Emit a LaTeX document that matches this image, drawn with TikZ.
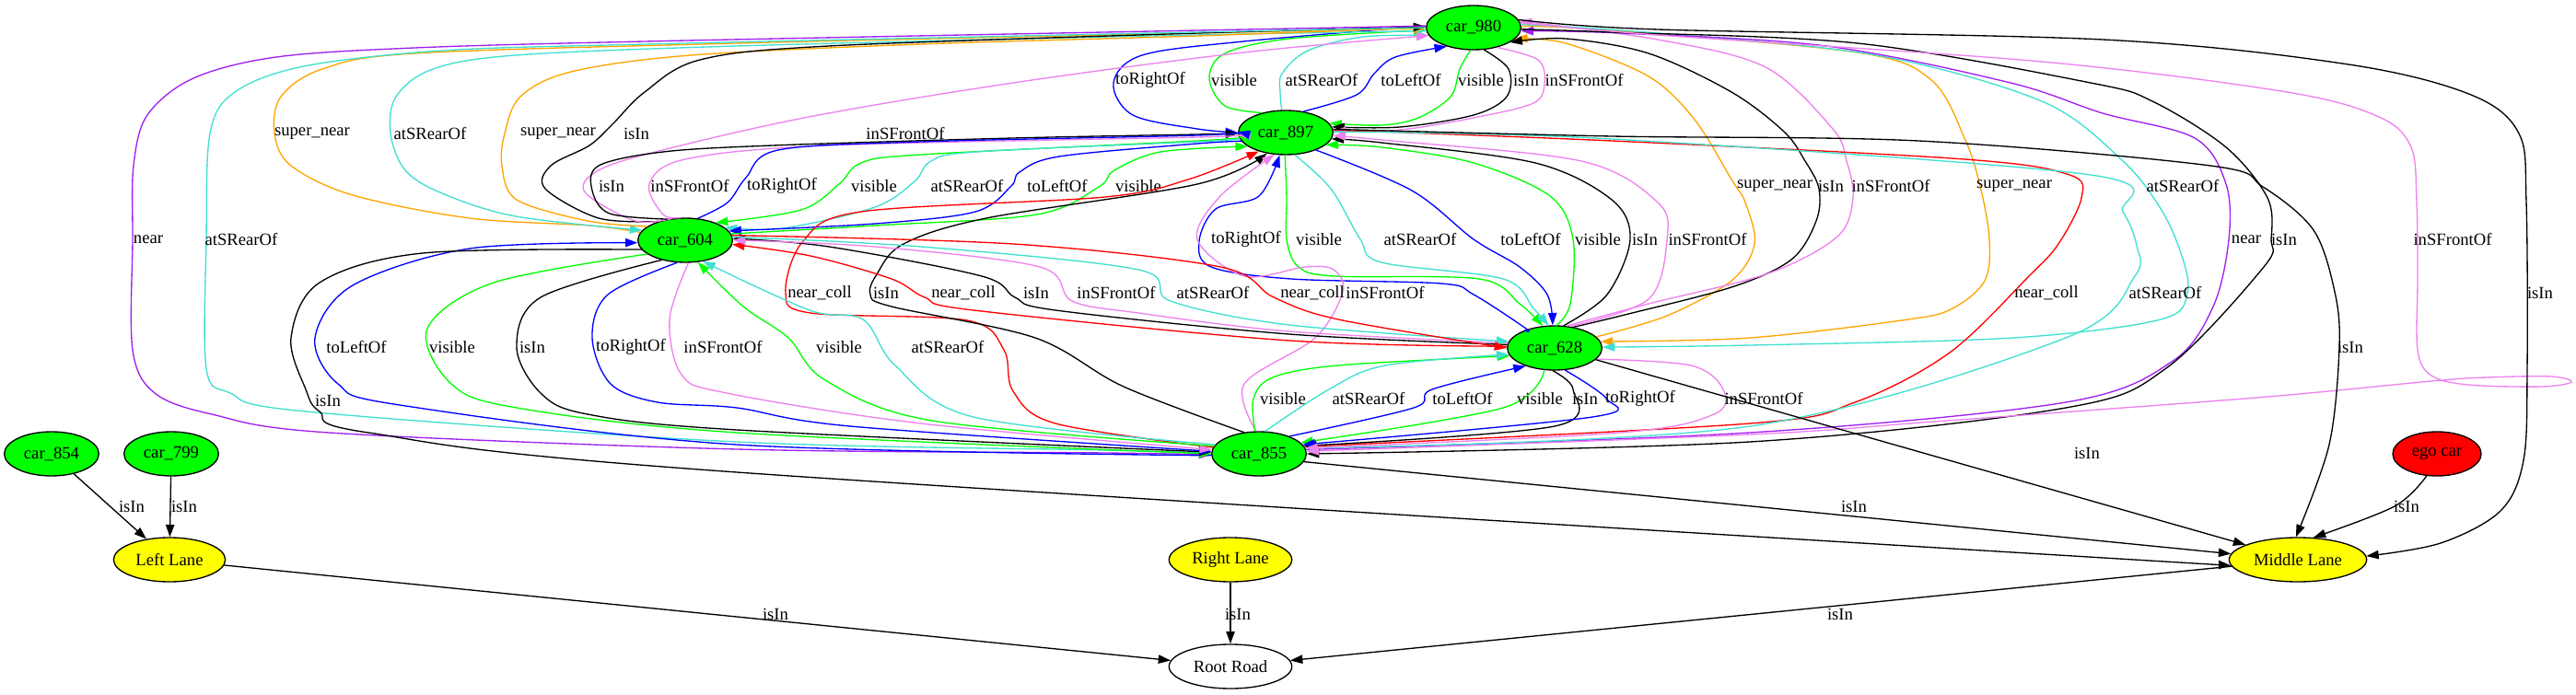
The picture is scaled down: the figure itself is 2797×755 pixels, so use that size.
\documentclass[tikz,border=0pt]{standalone}
\usepackage{fontspec}
\setmainfont{Liberation Serif}
\usetikzlibrary{arrows.meta,shapes.geometric}
\definecolor{vgreen}{HTML}{00FF00}
\definecolor{vviolet}{HTML}{EE82EE}
\definecolor{vturq}{HTML}{40E0D0}
\definecolor{vorange}{HTML}{FFA500}
\definecolor{vpurple}{HTML}{A020F0}
\definecolor{vblue}{HTML}{0000FF}
\definecolor{vred}{HTML}{FF0000}
\definecolor{vyellow}{HTML}{FFFF00}

\begin{document}
\begin{tikzpicture}[
  x=0.75pt, y=-0.75pt,
  every node/.style={font=\fontsize{14pt}{16pt}\selectfont},
  car/.style={ellipse, draw=black, fill=vgreen, line width=1pt,
    minimum width=77pt, minimum height=36pt, inner sep=0pt},
  lane/.style={car, fill=vyellow},
  egocar/.style={car, fill=vred, minimum width=72pt},
  road/.style={car, fill=white},
  lbl/.style={inner sep=1pt},
  arr/.style={-{Triangle[length=10pt,width=7pt]}, line width=1pt, smooth, tension=0.55},
  isin/.style={arr, draw=black},
  front/.style={arr, draw=vviolet},
  rear/.style={arr, draw=vturq},
  lft/.style={arr, draw=vblue},
  rgt/.style={arr, draw=vblue},
  vis/.style={arr, draw=vgreen},
  snear/.style={arr, draw=vorange},
  nr/.style={arr, draw=vpurple},
  coll/.style={arr, draw=vred}
]
  \path[fill=white] (0,0) rectangle (2797,755);
  \useasboundingbox (0,0) rectangle (2797,755);

  % nodes
  \node[car] (c980) at (1600,30) {car\_980};
  \node[car] (c897) at (1396,144) {car\_897};
  \node[car] (c604) at (744,261) {car\_604};
  \node[car] (c628) at (1688,378) {car\_628};
  \node[car] (c855) at (1367,493) {car\_855};
  \node[car] (c854) at (56,493) {car\_854};
  \node[car] (c799) at (186,493) {car\_799};
  \node[egocar] (ego) at (2646,493) {ego car};
  \node[lane, minimum width=91pt] (lleft) at (184,608) {Left Lane};
  \node[lane, minimum width=100pt] (lright) at (1336,608) {Right Lane};
  \node[lane, minimum width=112pt] (lmid) at (2495,608) {Middle Lane};
  \node[road, minimum width=100pt] (root) at (1336,724) {Root Road};

  % car_980 -- car_897
  \draw[rgt] plot coordinates {(c980.178) (1350,45) (1240,60) (1209,90) (1230,125) (1300,140) (c897.180)};
  \draw[vis] plot coordinates {(c897.140) (1330,115) (1313,85) (1330,58) (1400,42) (c980.183)};
  \draw[rear] plot coordinates {(c897.100) (1390,100) (1392,80) (1420,55) (1480,40) (c980.190)};
  \draw[lft] plot coordinates {(c897.50) (1473,103) (1492,80) (1515,62) (c980.215)};
  \draw[vis] plot coordinates {(c980.262) (1585,75) (1575,105) (1540,128) (1500,136) (c897.12)};
  \draw[isin] plot coordinates {(c980.295) (1638,75) (1636,105) (1600,125) (1520,138) (c897.7)};
  \draw[front] plot coordinates {(c980.320) (1670,65) (1677,90) (1665,112) (1600,128) (1520,141) (c897.2)};
  \foreach \x/\y/\t [count=\i] in {1249/87/toRightOf, 1340/87/visible, 1435/87/atSRearOf,
      1532/87/toLeftOf, 1608/87/visible, 1657/87/isIn, 1720/87/inSFrontOf}
    \node[lbl] (a\i) at (\x,\y) {\t};

  % car_980 -- car_604
  \draw[snear] plot coordinates {(c604.170) (640,245) (510,237) (383,212) (316,180) (298,145) (305,105) (350,75) (450,58) (800,47) (1250,37) (c980.181)};
  \draw[rear] plot coordinates {(c980.184) (1250,39) (800,50) (560,60) (470,75) (430,105) (424,145) (440,185) (480,210) (560,235) (c604.167)};
  \draw[snear] plot coordinates {(c604.160) (638,240) (561,217) (545,180) (548,145) (565,105) (620,78) (750,60) (1000,48) (1300,39) (c980.180)};
  \draw[isin] plot coordinates {(c604.145) (650,237) (592,205) (598,180) (640,158) (665,135) (700,100) (760,65) (900,50) (1300,36) (c980.179)};
  \draw[front] plot coordinates {(c604.120) (690,240) (636,210) (645,188) (700,168) (873,128) (1100,90) (1350,57) (c980.190)};
  \foreach \x/\y/\t [count=\i] in {339/145/super\_near, 467/145/atSRearOf, 606/145/super\_near,
      691/145/isIn, 983/145/inSFrontOf}
    \node[lbl] (b\i) at (\x,\y) {\t};

  % car_980 -- car_628
  \draw[snear] plot coordinates {(c628.15) (1810,343) (1880,305) (1905,265) (1895,220) (1880,195) (1840,130) (1790,83) (1700,47) (c980.345)};
  \draw[isin] plot coordinates {(c628.48) (1760,343) (1880,312) (1945,282) (1972,240) (1975,205) (1960,175) (1937,143) (1880,100) (1790,58) (1700,42) (c980.338)};
  \draw[front] plot coordinates {(c628.62) (1790,330) (1920,297) (1995,257) (2012,215) (2005,175) (1990,140) (1917,73) (1800,43) (c980.8)};
  \draw[snear] plot coordinates {(c980.2) (1750,33) (2017,57) (2097,87) (2133,150) (2150,202) (2160,260) (2155,305) (2120,335) (2072,347) (1900,367) (c628.8)};
  \draw[rear] plot coordinates {(c980.4) (1800,36) (2037,60) (2217,110) (2303,173) (2345,225) (2368,275) (2375,318) (2346,347) (2186,367) (1900,375) (c628.1)};
  \foreach \x/\y/\t [count=\i] in {1927/202/super\_near, 1988/202/isIn, 2053/202/inSFrontOf,
      2187/202/super\_near, 2370/202/atSRearOf}
    \node[lbl] (c\i) at (\x,\y) {\t};

  % car_980 -- car_855
  \draw[nr] plot coordinates {(c980.178) (1250,34) (700,45) (450,52) (300,62) (210,85) (160,125) (145,180) (144,260) (144,380) (168,427) (230,450) (357,470) (800,488) (1200,492) (c855.181)};
  \draw[rear] plot coordinates {(c980.180) (1250,36) (700,48) (480,55) (330,72) (255,100) (228,145) (224,260) (224,400) (250,427) (332,447) (800,480) (1200,489) (c855.179)};
  \draw[nr] plot coordinates {(c855.5) (1900,470) (2243,437) (2358,393) (2403,333) (2420,260) (2417,200) (2383,150) (2283,123) (2183,90) (1983,50) (1760,36) (c980.356)};
  \draw[isin] plot coordinates {(c980.358) (1750,35) (2017,47) (2270,90) (2337,110) (2417,160) (2462,215) (2466,260) (2458,290) (2352,400) (2243,443) (1900,480) (c855.0)};
  \draw[front] plot coordinates {(c980.6) (1800,38) (2217,67) (2483,100) (2583,127) (2618,160) (2624,220) (2625,300) (2625,380) (2640,408) (2680,418) (2760,420) (2792,415) (2770,409) (2700,410) (2640,414) (2450,432) (2100,458) (1900,472) (c855.3)};
  \foreach \x/\y/\t [count=\i] in {161/260/near, 262/260/atSRearOf, 2439/260/near,
      2480/260/isIn, 2663/260/inSFrontOf}
    \node[lbl] (d\i) at (\x,\y) {\t};

  % car_980 -- Middle Lane
  \draw[isin] plot coordinates {(c980.10) (1800,32) (2283,43) (2550,70) (2683,103) (2735,145) (2743,220) (2744,400) (2740,500) (2715,555) (2650,590) (lmid.3)};
  \node[lbl] (e1) at (2758,318) {isIn};

  % car_897 -- car_604
  \draw[isin] plot coordinates {(c604.130) (662,232) (643,207) (650,180) (720,165) (839,158) (1100,150) (1300,146) (c897.181)};
  \draw[front] plot coordinates {(c604.100) (720,233) (705,200) (744,173) (900,158) (1300,149) (c897.183)};
  \draw[rgt] plot coordinates {(c604.60) (790,220) (810,193) (845,163) (1000,154) (1300,147) (c897.179)};
  \draw[vis] plot coordinates {(c897.186) (1300,153) (1000,168) (935,177) (911,200) (870,228) (c604.30)};
  \draw[rear] plot coordinates {(c897.188) (1300,154) (1060,165) (1011,175) (993,197) (950,225) (850,248) (c604.18)};
  \draw[lft] plot coordinates {(c897.191) (1300,156) (1150,170) (1107,187) (1098,202) (1059,230) (950,243) (c604.12)};
  \draw[vis] plot coordinates {(c604.8) (950,245) (1126,233) (1193,203) (1210,185) (1260,165) (c897.200)};
  \foreach \x/\y/\t [count=\i] in {664/202/isIn, 749/202/inSFrontOf, 849/202/toRightOf,
      949/202/visible, 1050/202/atSRearOf, 1148/202/toLeftOf, 1236/202/visible}
    \node[lbl] (f\i) at (\x,\y) {\t};

  % car_897 -- car_628
  \draw[rgt] plot coordinates {(c628.150) (1657,357) (1600,320) (1565,308) (1402,303) (1315,290) (1302,262) (1320,227) (1367,213) (c897.255)};
  \draw[vis] plot coordinates {(c897.268) (1397,215) (1397,260) (1410,290) (1450,300) (1606,303) (1650,330) (c628.118)};
  \draw[rear] plot coordinates {(c897.292) (1445,205) (1477,260) (1500,285) (1632,303) (1665,335) (c628.105)};
  \draw[lft] plot coordinates {(c897.330) (1533,207) (1600,260) (1650,290) (1680,320) (c628.95)};
  \draw[vis] plot coordinates {(c628.85) (1705,330) (1708,260) (1683,213) (1600,177) (1500,160) (c897.343)};
  \draw[isin] plot coordinates {(c628.68) (1745,320) (1770,260) (1750,217) (1667,177) (1500,155) (c897.352)};
  \draw[front] plot coordinates {(c628.55) (1790,325) (1810,260) (1800,220) (1717,175) (1500,152) (c897.356)};
  \foreach \x/\y/\t [count=\i] in {1353/260/toRightOf, 1432/260/visible, 1542/260/atSRearOf,
      1662/260/toLeftOf, 1735/260/visible, 1786/260/isIn, 1854/260/inSFrontOf}
    \node[lbl] (g\i) at (\x,\y) {\t};

  % car_897 -- car_855
  \draw[coll] plot coordinates {(c855.172) (1146,460) (1100,425) (1090,380) (1050,348) (880,340) (853,318) (872,262) (935,230) (1200,214) (1290,195) (c897.215)};
  \draw[isin] plot coordinates {(c855.125) (1220,420) (1124,367) (968,333) (945,320) (952,298) (981,265) (1071,237) (1300,200) (c897.228)};
  \draw[front] plot coordinates {(c855.97) (1351,417) (1428,367) (1458,317) (1448,293) (1417,290) (1351,300) (1300,260) (1325,213) (c897.243)};
  \draw[coll] plot coordinates {(c897.3) (1750,153) (2133,173) (2247,190) (2260,215) (2235,265) (2203,300) (2117,383) (2014,437) (1900,460) (c855.9)};
  \draw[rear] plot coordinates {(c897.1) (1750,151) (2270,190) (2305,230) (2320,267) (2318,300) (2243,367) (1900,463) (c855.7)};
  \foreach \x/\y/\t [count=\i] in {890/318/near\_coll, 962/318/isIn, 1504/318/inSFrontOf,
      2222/318/near\_coll, 2351/318/atSRearOf}
    \node[lbl] (h\i) at (\x,\y) {\t};

  % car_897 -- Middle Lane
  \draw[isin] plot coordinates {(c897.4) (1750,148) (2083,153) (2400,180) (2457,203) (2512,250) (2535,317) (2540,377) (2529,483) (lmid.95)};
  \node[lbl] (h6) at (2552,377) {isIn};

  % car_604 -- car_855
  \draw[lft] plot coordinates {(c855.182) (800,483) (434,440) (367,417) (342,367) (383,310) (510,270) (c604.183)};
  \draw[vis] plot coordinates {(c604.200) (536,307) (464,357) (490,417) (561,443) (800,470) (c855.180)};
  \draw[isin] plot coordinates {(c604.220) (587,323) (561,377) (587,427) (638,450) (800,467) (c855.178)};
  \draw[rgt] plot coordinates {(c604.250) (660,320) (643,367) (663,417) (714,437) (800,443) (923,463) (c855.177)};
  \draw[front] plot coordinates {(c604.278) (727,347) (740,407) (789,427) (1000,460) (c855.175)};
  \draw[vis] plot coordinates {(c855.170) (1012,457) (896,413) (856,367) (807,333) (c604.300)};
  \draw[rear] plot coordinates {(c855.168) (1057,453) (972,397) (937,347) (879,337) (c604.310)};
  \foreach \x/\y/\t [count=\i] in {387/377/toLeftOf, 491/377/visible, 578/377/isIn,
      685/377/toRightOf, 785/377/inSFrontOf, 911/377/visible, 1029/377/atSRearOf}
    \node[lbl] (i\i) at (\x,\y) {\t};

  % car_604 -- car_628
  \draw[coll] plot coordinates {(c628.178) (1400,370) (1057,337) (1004,323) (968,303) (880,278) (c604.355)};
  \draw[isin] plot coordinates {(c628.176) (1400,363) (1146,337) (1102,323) (1066,300) (900,268) (c604.2)};
  \draw[front] plot coordinates {(c628.174) (1400,360) (1236,340) (1164,327) (1129,290) (950,268) (c604.0)};
  \draw[rear] plot coordinates {(c604.4) (1000,268) (1236,293) (1271,327) (1400,353) (c628.172)};
  \draw[coll] plot coordinates {(c604.6) (1100,265) (1325,290) (1383,323) (1453,347) (c628.180)};
  \foreach \x/\y/\t [count=\i] in {1046/318/near\_coll, 1125/318/isIn, 1212/318/inSFrontOf,
      1317/318/atSRearOf, 1425/318/near\_coll}
    \node[lbl] (j\i) at (\x,\y) {\t};

  % car_604 -- Middle Lane
  \draw[isin] plot coordinates {(c604.192) (459,275) (347,307) (316,367) (332,423) (347,447) (400,470) (800,513) (lmid.185)};
  \node[lbl] (j6) at (356,435) {isIn};

  % car_628 -- car_855
  \draw[vis] plot coordinates {(c855.100) (1361,433) (1382,410) (1453,397) (c628.190)};
  \draw[rear] plot coordinates {(c855.75) (1443,423) (1504,397) (c628.188)};
  \draw[lft] plot coordinates {(c855.30) (1535,443) (1555,423) (c628.212)};
  \draw[vis] plot coordinates {(c628.245) (1632,443) (c855.15)};
  \draw[isin] plot coordinates {(c628.265) (1708,423) (1688,463) (c855.10)};
  \draw[rgt] plot coordinates {(c628.295) (1744,433) (1729,453) (c855.12)};
  \draw[front] plot coordinates {(c628.345) (1836,397) (1871,423) (1861,450) (1759,470) (c855.7)};
  \foreach \x/\y/\t [count=\i] in {1393/433/visible, 1486/433/atSRearOf, 1588/433/toLeftOf,
      1672/433/visible, 1721/433/isIn, 1781/433/toRightOf, 1915/433/inSFrontOf}
    \node[lbl] (k\i) at (\x,\y) {\t};

  % lanes and road
  \draw[isin] (c628) -- (lmid);
  \draw[isin] (c855.350) -- (lmid.175);
  \draw[isin] plot coordinates {(ego.245) (2600,550) (lmid.55)};
  \draw[isin] (c854) -- (lleft);
  \draw[isin] (c799) -- (lleft);
  \draw[isin] (lleft) -- (root);
  \draw[isin] (lright) -- (root);
  \draw[isin] (lmid) -- (root);
  \foreach \x/\y [count=\i] in {2266/492, 2013/550, 2613/550, 143/550, 200/550,
      842/667, 1344/667, 1998/667}
    \node[lbl] (m\i) at (\x,\y) {isIn};
\end{tikzpicture}
\end{document}
